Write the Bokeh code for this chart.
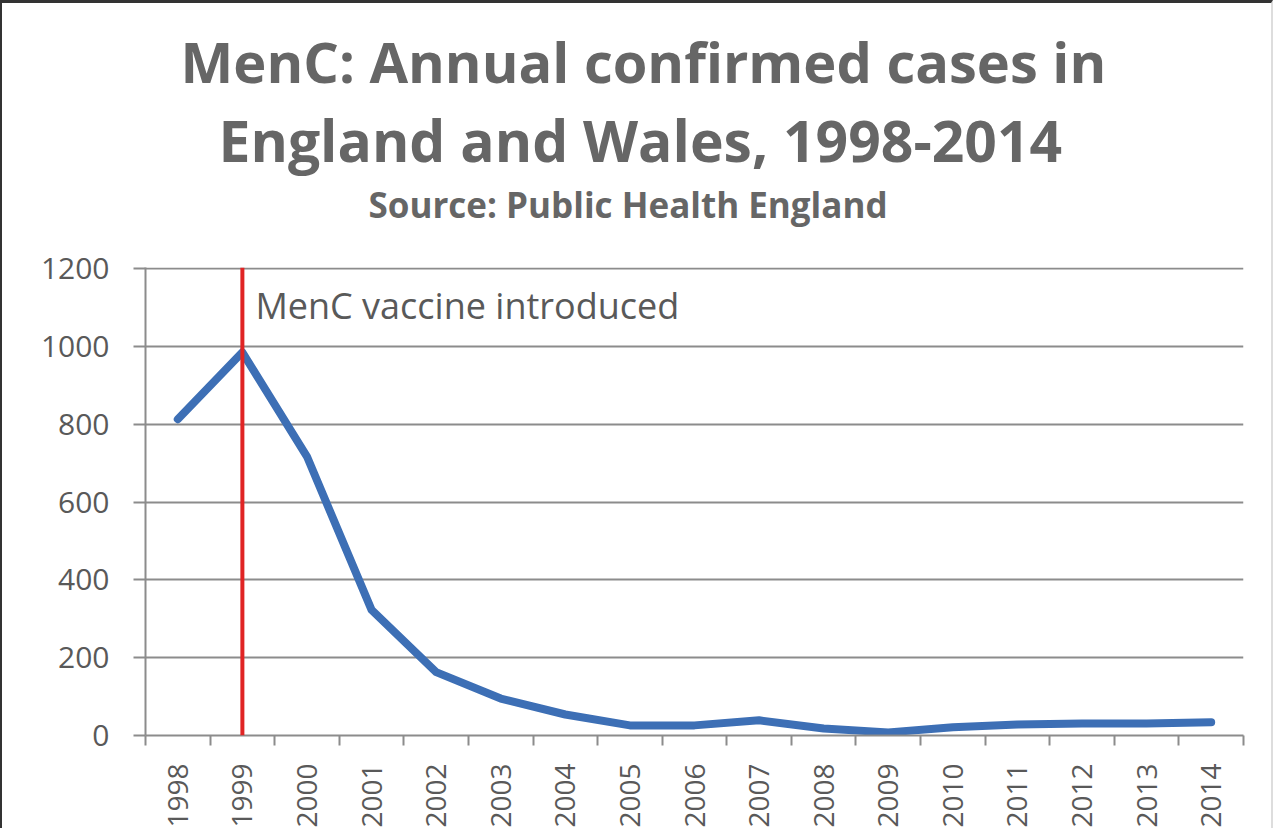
import math
from bokeh.plotting import figure
from bokeh.models import Range1d, FixedTicker, Span, Label, Title
from bokeh.embed import file_html
from bokeh.resources import INLINE

years = [1998, 1999, 2000, 2001, 2002, 2003, 2004, 2005, 2006, 2007,
         2008, 2009, 2010, 2011, 2012, 2013, 2014]
cases = [813, 985, 717, 323, 163, 95, 54, 26, 26, 39, 18, 8, 21, 28, 31, 31, 34]
y_ticks = [0, 200, 400, 600, 800, 1000, 1200]
vaccine_year = 1999
vaccine_text = "MenC vaccine introduced"
title_line1 = "MenC: Annual confirmed cases in"
title_line2 = "England and Wales, 1998-2014"
subtitle = "Source: Public Health England"

FONT = "Open Sans"
GRID = "#8c8c8c"
TEXT = "#595959"
TITLE = "#666666"

n = len(years)
xc = [i + 0.5 for i in range(n)]

p = figure(width=1273, height=828, output_backend="svg", toolbar_location=None,
           x_range=Range1d(0, n), y_range=Range1d(0, 1203),
           min_border_left=143, min_border_right=32, min_border_bottom=96,
           min_border_top=264)
p.title = None
p.outline_line_color = None
p.background_fill_color = "white"
p.border_fill_color = "white"

# Titles (added bottom-up, stacked from the frame upward)
p.add_layout(Title(text=" ", text_font_size="28px", text_font=FONT, standoff=0), "above")
p.add_layout(Title(text=subtitle, align="left", offset=223, text_font=FONT,
                   text_font_size="35px", text_font_style="bold", standoff=0,
                   text_line_height=1.1, text_color=TITLE), "above")
p.add_layout(Title(text=title_line2, align="left", offset=73, text_font=FONT,
                   text_font_size="57px", text_font_style="bold", standoff=0,
                   text_line_height=1.0, text_color=TITLE), "above")
p.add_layout(Title(text=title_line1, align="left", offset=35, text_font=FONT,
                   text_font_size="56px", text_font_style="bold", standoff=0,
                   text_color=TITLE), "above")

# grid
p.xgrid.grid_line_color = None
p.ygrid.grid_line_color = GRID
p.ygrid.grid_line_width = 2
p.yaxis.ticker = FixedTicker(ticks=y_ticks)

# y axis
p.yaxis.axis_line_color = GRID
p.yaxis.axis_line_width = 2
p.yaxis.major_tick_line_color = GRID
p.yaxis.major_tick_line_width = 2
p.yaxis.major_tick_out = 12
p.yaxis.major_tick_in = 0
p.yaxis.minor_tick_line_color = None
p.yaxis.major_label_text_font = FONT
p.yaxis.major_label_text_font_size = "30px"
p.yaxis.major_label_text_color = TEXT
p.yaxis.major_label_standoff = 24

# x axis
p.xaxis.ticker = FixedTicker(ticks=xc, minor_ticks=list(range(n + 1)))
p.xaxis.major_label_overrides = {x: str(y) for x, y in zip(xc, years)}
p.xaxis.axis_line_color = GRID
p.xaxis.axis_line_width = 2
p.xaxis.major_tick_line_color = None
p.xaxis.major_tick_out = 0
p.xaxis.major_tick_in = 0
p.xaxis.minor_tick_line_color = GRID
p.xaxis.minor_tick_line_width = 2
p.xaxis.minor_tick_out = 10
p.xaxis.minor_tick_in = 0
p.xaxis.major_label_orientation = math.pi / 2
p.xaxis.major_label_text_font = FONT
p.xaxis.major_label_text_font_size = "28px"
p.xaxis.major_label_text_color = TEXT
p.xaxis.major_label_standoff = 18

# data line
p.line(xc, cases, line_color="#3d6fb5", line_width=8, line_join="round",
       line_cap="round")

vx = years.index(vaccine_year) + 0.5
p.add_layout(Span(location=vx, dimension="height", line_color="#e02424",
                  line_width=4))
p.add_layout(Label(x=vx, y=1105, x_offset=13, text=vaccine_text,
                   text_font=FONT, text_font_size="36px", text_color=TEXT,
                   text_baseline="middle"))

p.styles = {"border-top": "3px solid #333333", "border-left": "2px solid #333333",
            "border-right": "2px solid #dddddd"}

open("out.html", "w").write(file_html(p, INLINE))
